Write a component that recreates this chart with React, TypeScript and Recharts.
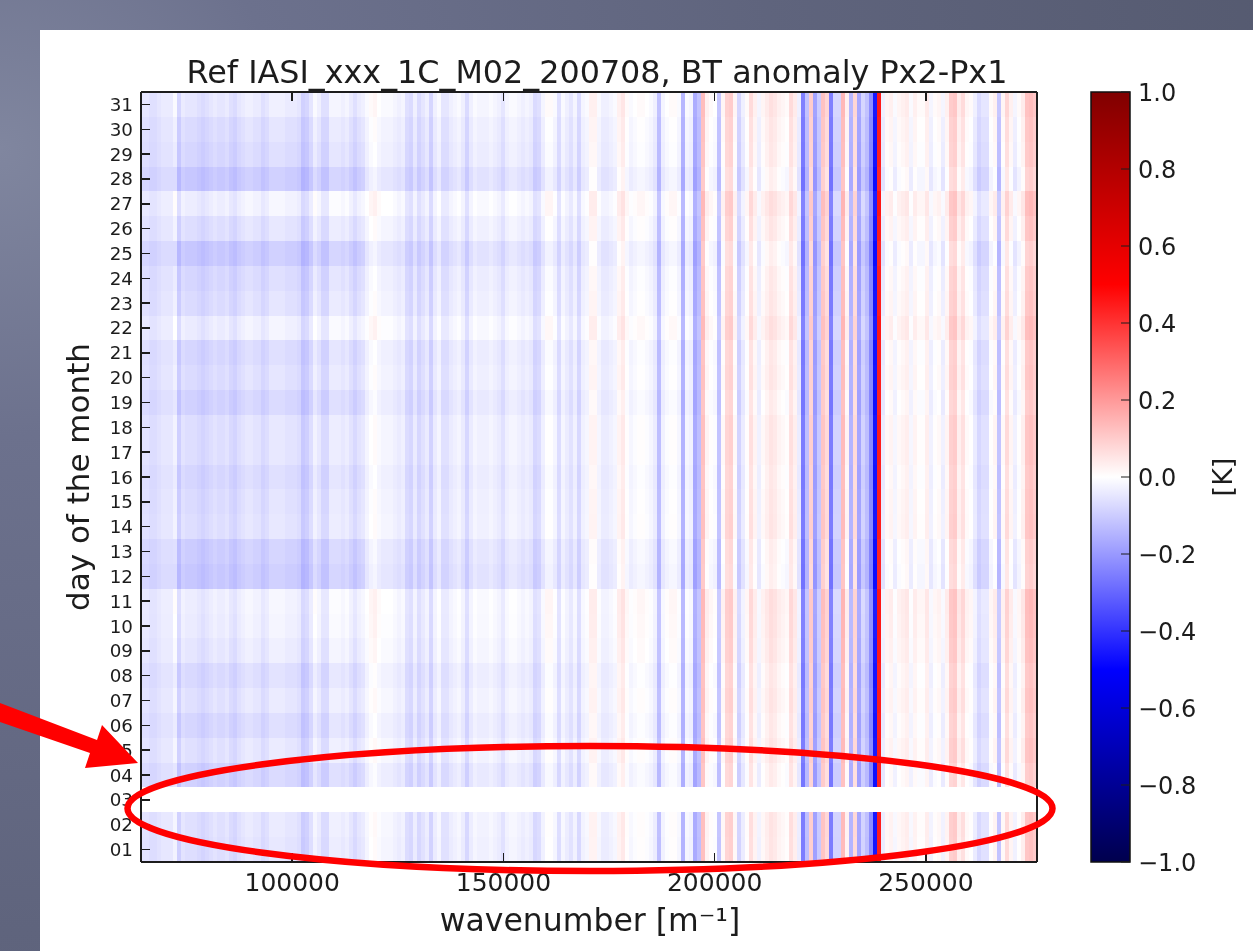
import React from 'react';
import { BarChart, Bar, Cell, XAxis, YAxis } from 'recharts';

// Column anomalies for the day 31 row, in hundredths of a kelvin, read left to right.
const columnsA = [-5,-5,-6,-6,-5,-4,-4,-4,-1,-8,-4,-5,-5,-5,-6,-7,-6,-5,-4,-5,-5,-4,-6,-7,-5,-4,-3,-3,-4,-4,-6,-5,-3,-3,-3,-3,-4,-4,-4,-5,-9,-8,-5,-1,-3,-6,-6,-2,-2,-2,-3,-2,-4,-6,-4,-3];
const columnsB = [-1,1,2,0,-1,-1,-1,-2,-3,-2,-6,-7,-3,-7,-5,-3,-8,-3,-1,-5,-5,-3,-2,-1,-3,-7,-3,-1,-2,-2,-2,-1,-2,-3,-5,-2,-1,-1,-2,-3,-2,-3,-7,-6,-2,1,1,-1,-6,-1,-3,-5,-2,-7,-2,-1];
const columnsC = [3,3,-1,-3,-3,-2,-1,3,5,1,-1,0,1,1,0,-1,-3,-12,-2,0,1,1,-1,-14,-1,-2,-16,-12,13,3,1,0,-11,2,9,10,2,-8,-3,1,7,3,-2,2,4,6,5,3,2,1,7,4,-3,-25,-12,10];
const columnsD = [-18,-10,12,8,-25,-8,-8,14,3,-14,8,-17,-8,-12,-22,-45,45,-3,2,3,-1,2,3,4,-1,3,1,1,4,-2,1,2,-2,3,10,11,4,7,2,1,-3,-7,-5,-5,1,3,-11,2,8,3,-2,1,4,12,13,11];
const columnValues = [...columnsA, ...columnsB, ...columnsC, ...columnsD];

// Shift of each day's row from day 31, hundredths of a kelvin (index 0 = day 01). Day 03 has no data.
const dayShift: (number | null)[] = [-1.5,-1,null,-4,-1,-3,-1,-2.5,0,1,1.5,-6,-5,-1.5,-2,-3,-1.5,-1.5,-4,-2,-3,1,-2,-3,-6,-1.5,1.5,-6,-3,-2,0];
// How strongly the day shift shows in each group of eight columns.
const shiftStrength = [0.5,1,1,1,1,1,1,0.65,0.6,0.6,0.6,0.6,0.6,0.45,0.45,0.45,0.45,0.45,0.45,0.45,0.45,0.45,0.45,0.45,0.45,0.55,0.55,0.55];

const dayLabels = ['01','02','03','04','05','06','07','08','09','10','11','12','13','14','15','16','17','18','19','20','21','22','23','24','25','26','27','28','29','30','31'];
const dayTicks = [0.5,1.5,2.5,3.5,4.5,5.5,6.5,7.5,8.5,9.5,10.5,11.5,12.5,13.5,14.5,15.5,16.5,17.5,18.5,19.5,20.5,21.5,22.5,23.5,24.5,25.5,26.5,27.5,28.5,29.5,30.5];
const wavenumberTicks = [100000, 150000, 200000, 250000];
const colorbarTicks = [-1,-0.8,-0.6,-0.4,-0.2,0,0.2,0.4,0.6,0.8,1];
const colormapKnots = [1, 0.5, 0, -0.5, -1];
const wnMin = 64200;
const wnMax = 276300;

const FONT = '"DejaVu Sans", sans-serif';
const INK = '#1c1c1c';

function seismic(v: number): string {
  const t = Math.max(-1, Math.min(1, v));
  let r = 255, g = 255, b = 255;
  if (t < -0.5) { r = 0; g = 0; b = 255 * (0.3 + 0.7 * (t + 1) * 2); }
  else if (t < 0) { r = g = 255 * (1 + t * 2); b = 255; }
  else if (t < 0.5) { r = 255; g = b = 255 * (1 - t * 2); }
  else { r = 255 * (1 - (t - 0.5)); g = 0; b = 0; }
  return `rgb(${Math.round(r)},${Math.round(g)},${Math.round(b)})`;
}

const step = (wnMax - wnMin) / columnValues.length;
const table = columnValues.map((_, k) => {
  const row: Record<string, number> = { wn: wnMin + (k + 0.5) * step };
  dayLabels.forEach((d) => { row['d' + d] = 1; });
  return row;
});
const cellColor = (dayIndex: number, k: number) => {
  const shift = dayShift[dayIndex];
  if (shift === null) return '#ffffff';
  return seismic((columnValues[k] + shift * shiftStrength[Math.floor(k / 8)]) / 100);
};

const LeftTick = ({ x, y, payload }: any) => {
  const label = dayLabels[Math.floor(payload.value)];
  return (
    <g>
      <line x1={x} x2={x + 9} y1={y} y2={y} stroke={INK} strokeWidth={1.5} />
      <text x={x - 8} y={y + 6.5} textAnchor="end" fontSize={18.3} fontFamily={FONT} fill={INK}>{label}</text>
    </g>
  );
};
const RightTick = ({ x, y }: any) => <line x1={x} x2={x - 9} y1={y} y2={y} stroke={INK} strokeWidth={1.5} />;
const BottomTick = ({ x, y, payload }: any) => (
  <g>
    <line x1={x} x2={x} y1={y} y2={y - 9} stroke={INK} strokeWidth={1.5} />
    <text x={x} y={y + 29} textAnchor="middle" fontSize={25} fontFamily={FONT} fill={INK}>{payload.value}</text>
  </g>
);
const TopTick = ({ x, y }: any) => <line x1={x} x2={x} y1={y} y2={y + 9} stroke={INK} strokeWidth={1.5} />;
const BarTick = ({ x, y, payload }: any) => {
  const v = payload.value as number;
  const text = (v < 0 ? '\u2212' : '') + Math.abs(v).toFixed(1);
  return (
    <g>
      <line x1={x} x2={x - 9} y1={y} y2={y} stroke={INK} strokeWidth={1} />
      <text x={x + 8} y={y + 8.5} textAnchor="start" fontSize={24} fontFamily={FONT} fill={INK}>{text}</text>
    </g>
  );
};

const colorbarData = [{ name: 'K', span: [-1, 1] }];

export default function App() {
  return (
    <div style={{ position: 'absolute', left: 0, top: 0, width: 1253, height: 951, overflow: 'hidden', filter: 'blur(0.55px)',
      background: 'radial-gradient(circle 1300px at 0px 150px, #80869f 0%, #6c718d 22%, #5f647d 60%, #555a70 100%)' }}>
      <div style={{ position: 'absolute', left: 40, top: 30, width: 1213, height: 921, background: '#ffffff' }} />

      <div style={{ position: 'absolute', left: 0, top: 0 }}>
        <BarChart width={1253} height={951} data={table} margin={{ top: 91, right: 215, bottom: 29, left: 81 }}
          barCategoryGap={0} barGap={0} style={{ shapeRendering: 'crispEdges' }}>
          <XAxis dataKey="wn" type="number" domain={[wnMin, wnMax]} ticks={wavenumberTicks} height={60}
            tick={<BottomTick />} tickLine={false} tickSize={0} tickMargin={0} axisLine={{ stroke: INK, strokeWidth: 2 }} />
          <XAxis xAxisId="top" orientation="top" dataKey="wn" type="number" domain={[wnMin, wnMax]} ticks={wavenumberTicks} height={1}
            tick={<TopTick />} tickLine={false} tickSize={0} tickMargin={0} axisLine={{ stroke: INK, strokeWidth: 2 }} />
          <YAxis type="number" domain={[0, 31]} ticks={dayTicks} interval={0} width={60}
            tick={<LeftTick />} tickLine={false} tickSize={0} tickMargin={0} axisLine={{ stroke: INK, strokeWidth: 2 }} />
          <YAxis yAxisId="right" orientation="right" type="number" domain={[0, 31]} ticks={dayTicks} interval={0} width={1}
            tick={<RightTick />} tickLine={false} tickSize={0} tickMargin={0} axisLine={{ stroke: INK, strokeWidth: 2 }} />
          {dayLabels.map((d, i) => (
            <Bar key={d} dataKey={'d' + d} stackId="days" barSize={4} isAnimationActive={false}>
              {columnValues.map((_, k) => <Cell key={k} fill={cellColor(i, k)} />)}
            </Bar>
          ))}
        </BarChart>
      </div>

      <div style={{ position: 'absolute', left: 1053, top: 0 }}>
        <BarChart width={200} height={951} data={colorbarData} margin={{ top: 92, right: 53, bottom: 89, left: 38 }} barCategoryGap={0}>
          <defs>
            <linearGradient id="seismicBar" x1="0" y1="0" x2="0" y2="1">
              {colormapKnots.map((v) => <stop key={v} offset={(1 - v) / 2} stopColor={seismic(v)} />)}
            </linearGradient>
          </defs>
          <XAxis dataKey="name" hide />
          <YAxis orientation="right" type="number" domain={[-1, 1]} ticks={colorbarTicks} interval={0} width={70}
            tick={<BarTick />} tickLine={false} tickSize={0} tickMargin={0} axisLine={false} />
          <Bar dataKey="span" fill="url(#seismicBar)" stroke="#111111" strokeWidth={1.5} isAnimationActive={false} />
        </BarChart>
      </div>

      <svg width={1253} height={951} style={{ position: 'absolute', left: 0, top: 0 }}>
        <text x={597} y={83} textAnchor="middle" fontSize={31.8} fontFamily={FONT} fill={INK}>Ref IASI_xxx_1C_M02_200708, BT anomaly Px2-Px1</text>
        <text x={590} y={931} textAnchor="middle" fontSize={31.5} fontFamily={FONT} fill={INK}>wavenumber [m⁻¹]</text>
        <text transform="translate(89,477) rotate(-90)" textAnchor="middle" fontSize={31} fontFamily={FONT} fill={INK}>day of the month</text>
        <text transform="translate(1232,477) rotate(-90)" textAnchor="middle" fontSize={27} fontFamily={FONT} fill={INK}>[K]</text>
        <ellipse cx={590} cy={808.5} rx={462.5} ry={62.5} fill="none" stroke="#ff0000" strokeWidth={6.5} />
        <polygon points="0,703 97,740 102,725 138,763 85,768 90,753 0,722" fill="#ff0000" />
      </svg>
    </div>
  );
}
